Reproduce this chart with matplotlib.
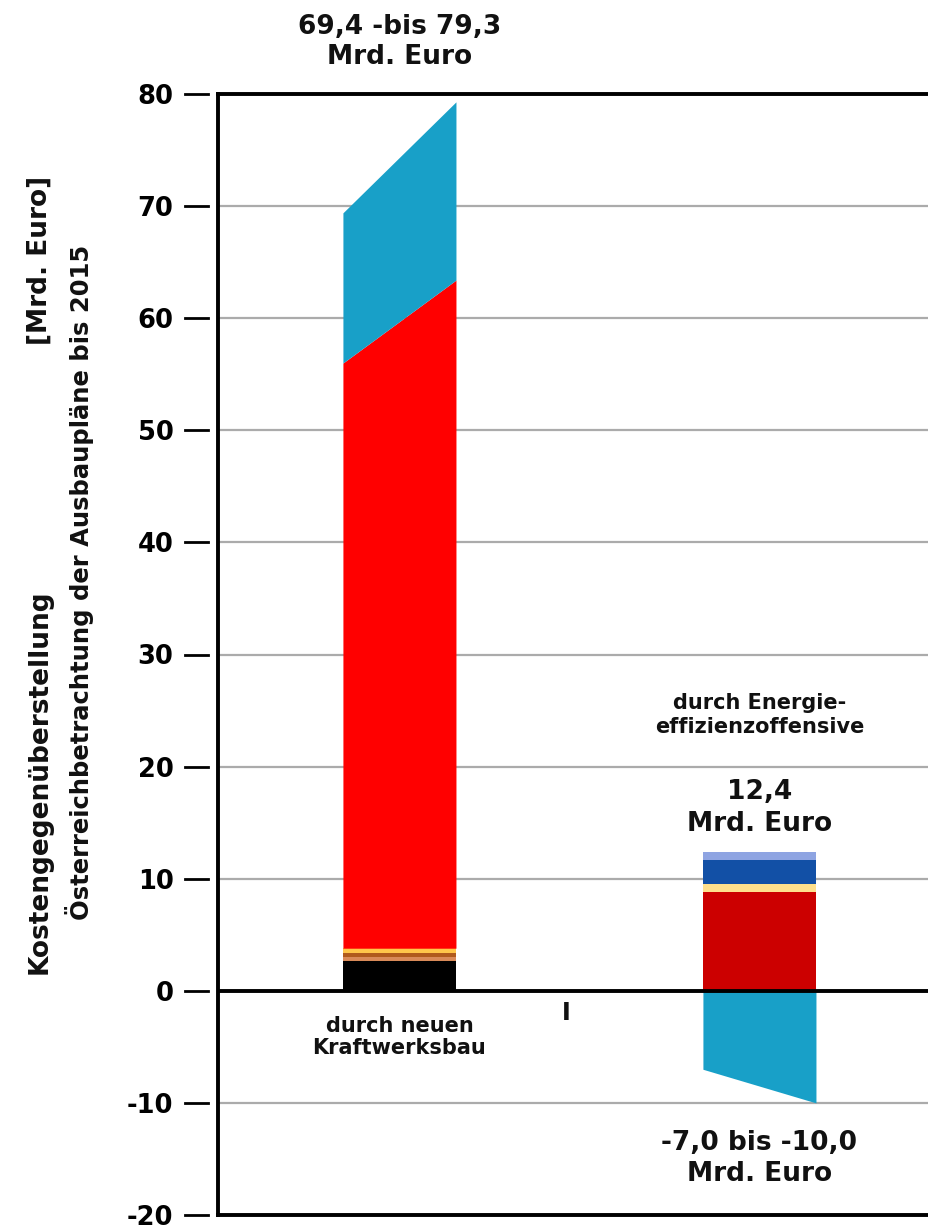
import matplotlib
matplotlib.use("Agg")
import matplotlib.pyplot as plt

# values in Mrd. Euro
categories = ["durch neuen\nKraftwerksbau", "durch Energie-\neffizienzoffensive"]
plant_base = [2.7, 0.3, 0.35, 0.45]           # black, tan, brown, yellow stripes
plant_base_colors = ["#000000", "#d98a58", "#b05a1c", "#ffc64a"]
plant_red_top = [56.0, 63.4]                   # sloped top of red block (left, right)
plant_total = [69.4, 79.3]                     # range 69,4 bis 79,3
eff_layers = [8.8, 0.7, 2.2, 0.7]              # sums to 12,4
eff_colors = ["#cc0000", "#ffe08c", "#1250a6", "#8ea4e2"]
eff_savings = [-7.0, -10.0]                    # -7,0 bis -10,0
yticks = [80, 70, 60, 50, 40, 30, 20, 10, 0, -10, -20]

W, H = 929, 1231
fig = plt.figure(figsize=(W / 100, H / 100), dpi=100)
plt.rcParams["font.family"] = ["DejaVu Sans"]
ax = fig.add_axes([218 / W, 16 / H, 1 - 218 / W, 1121 / H])

width = 0.314
cyan = "#18a0c8"

# bar 1: new power plants
x0, x1 = -width / 2, width / 2
bottom = 0
for h, c in zip(plant_base, plant_base_colors):
    ax.bar(0, h, width, bottom=bottom, color=c, linewidth=0, zorder=3)
    bottom += h
ax.fill_between([x0, x1], [bottom, bottom], plant_red_top, color="#ff0000", lw=0, zorder=3)
ax.fill_between([x0, x1], plant_red_top, plant_total, color=cyan, lw=0, zorder=3)

# bar 2: efficiency offensive
bottom = 0
for h, c in zip(eff_layers, eff_colors):
    ax.bar(1, h, width, bottom=bottom, color=c, linewidth=0, zorder=3)
    bottom += h
ax.fill_between([1 - width / 2, 1 + width / 2], [0, 0], eff_savings, color=cyan, lw=0, zorder=3)

ax.set_xlim(-0.504, 1.471)
ax.set_ylim(-20, 80)
ax.set_xticks([])
ax.set_yticks(yticks)
ax.set_yticklabels([str(v) for v in yticks], fontsize=18.5, fontweight="bold")
ax.tick_params(axis="y", length=0, pad=32)
for v in yticks:
    ax.plot([-0.047, -0.014], [v, v], color="black", lw=2, transform=ax.get_yaxis_transform(),
            clip_on=False)

for v in yticks[1:-1]:
    if v != 0:
        ax.axhline(v, color="#ababab", lw=1.6, zorder=1)
ax.axhline(0, color="black", lw=2.8, zorder=4)

for s in ["left", "top", "bottom"]:
    ax.spines[s].set_linewidth(2.8)
ax.spines["right"].set_visible(False)

bold = dict(fontweight="bold", ha="center", va="center", color="#111111")
ax.text(0, 84.6, "69,4 -bis 79,3\nMrd. Euro", fontsize=19, linespacing=1.2, clip_on=False, **bold)
ax.text(0, -4.1, categories[0], fontsize=15, linespacing=1.15, **bold)
ax.text(0.4625, -2.0, "I", fontsize=17, **bold)
ax.text(1, 24.6, categories[1], fontsize=15, linespacing=1.3, **bold)
ax.text(1, 16.3, "12,4\nMrd. Euro", fontsize=19, linespacing=1.3, **bold)
ax.text(1, -15.0, "-7,0 bis -10,0\nMrd. Euro", fontsize=19, linespacing=1.25, **bold)

fig.text(40 / W, 1 - 782 / H, "Kostengegenüberstellung", rotation=90, fontsize=19, **bold)
fig.text(40 / W, 1 - 260 / H, "[Mrd. Euro]", rotation=90, fontsize=19, **bold)
fig.text(80 / W, 1 - 582 / H, "Österreichbetrachtung der Ausbaupläne bis 2015", rotation=90,
         fontsize=17.5, **bold)

fig.savefig("out.png", dpi=100)
